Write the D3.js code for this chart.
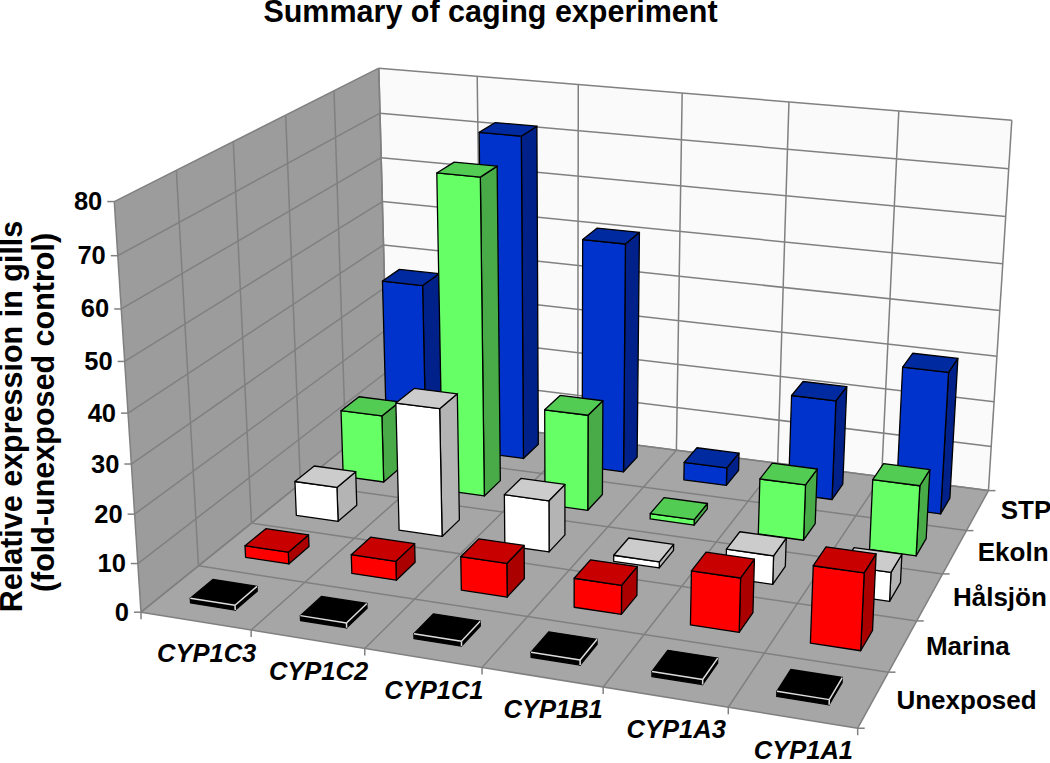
<!DOCTYPE html>
<html><head><meta charset="utf-8">
<script src="https://cdn.jsdelivr.net/npm/d3@7"></script>
<style>html,body{margin:0;padding:0;background:#fff}svg{display:block}text{font-family:"Liberation Sans",Arial,sans-serif;font-weight:bold;fill:#000}</style>
</head><body><div id="c"></div>
<script>
const categories=["CYP1C3","CYP1C2","CYP1C1","CYP1B1","CYP1A3","CYP1A1"];
const seriesNames=["Unexposed","Marina","Hålsjön","Ekoln","STP"];
const unexposed=[1,1,1,1,1,1];
const marina=[2.5,4,7,6,11,15.5];
const halsjon=[7.5,27.5,11,1.3,6,6];
const ekoln=[15,69,21,1.2,12,15];
const stp=[37,72,51,4,22,31];
const seriesValues=[unexposed,marina,halsjon,ekoln,stp];
const valueTicks=[0,10,20,30,40,50,60,70,80];
const titleText="Summary of caging experiment";
const yTitle=["Relative expression in gills","(fold-unexposed control)"];
const palette=[
 {front:"#000000",top:"#000000",side:"#000000",stroke:"#000000",inner:"#dddddd"},
 {front:"#ff0000",top:"#c80000",side:"#aa0000",stroke:"#000000"},
 {front:"#ffffff",top:"#cccccc",side:"#b4b4b4",stroke:"#000000"},
 {front:"#66ff66",top:"#53cc53",side:"#48ab48",stroke:"#000000"},
 {front:"#0033cc",top:"#002aa0",side:"#00208a",stroke:"#000000"}
];
const W=1050,H=763;
const svg=d3.select("#c").append("svg").attr("width",W).attr("height",H);

// Perspective camera fitted to the box corners: [x,z,h] -> [px,py]
const anchors=[[[0,0,0],[140,612]],[[6,0,0],[858,728]],[[6,5,0],[988,491]],[[0,5,0],[389,413]],
               [[0,0,1],[115,202]],[[6,5,1],[1012,120]],[[0,5,1],[378,68]]];
function solve(A,b){const n=b.length,M=A.map((r,i)=>[...r,b[i]]);
 for(let i=0;i<n;i++){let p=i;for(let r=i+1;r<n;r++)if(Math.abs(M[r][i])>Math.abs(M[p][i]))p=r;[M[i],M[p]]=[M[p],M[i]];
  for(let r=0;r<n;r++){if(r===i)continue;const f=M[r][i]/M[i][i];for(let c=i;c<=n;c++)M[r][c]-=f*M[i][c];}}
 return M.map((r,i)=>r[n]/r[i]);}
const rows=[],rhs=[];
anchors.forEach(([[X,Z,Y],[u,v]])=>{
 rows.push([X,Z,Y,1,0,0,0,0,-u*X,-u*Z,-u*Y]);rhs.push(u);
 rows.push([0,0,0,0,X,Z,Y,1,-v*X,-v*Z,-v*Y]);rhs.push(v);});
const ATA=d3.range(11).map(i=>d3.range(11).map(j=>d3.sum(rows,r=>r[i]*r[j])));
const ATb=d3.range(11).map(i=>d3.sum(rows,(r,k)=>r[i]*rhs[k]));
const P=solve(ATA,ATb);
function proj(x,z,h){const w=P[8]*x+P[9]*z+P[10]*h+1;
 return [(P[0]*x+P[1]*z+P[2]*h+P[3])/w,(P[4]*x+P[5]*z+P[6]*h+P[7])/w];}

const xBand=d3.scaleBand().domain(categories).range([0,6]);
const zBand=d3.scaleBand().domain(seriesNames).range([0,5]);
const hScale=d3.scaleLinear().domain([0,80]).range([0,1]);
const poly=d3.line();
const face=(pts)=>poly(pts)+"Z";
const GRID="#808080";
const gWalls=svg.append("g");
gWalls.append("path").attr("d",face([proj(0,0,0),proj(0,5,0),proj(0,5,1),proj(0,0,1)])).attr("fill","#9c9c9c");
gWalls.append("path").attr("d",face([proj(0,5,0),proj(6,5,0),proj(6,5,1),proj(0,5,1)])).attr("fill","#fafafa");
gWalls.append("path").attr("d",face([proj(0,0,0),proj(6,0,0),proj(6,5,0),proj(0,5,0)])).attr("fill","#a6a6a6");
function gl(a,b){gWalls.append("line").attr("x1",a[0]).attr("y1",a[1]).attr("x2",b[0]).attr("y2",b[1]).attr("stroke",GRID).attr("stroke-width",1.5);}
valueTicks.forEach(v=>{const h=hScale(v);
 gl(proj(0,0,h),proj(0,5,h));gl(proj(0,5,h),proj(6,5,h));
 const p=proj(0,0,h);gl([p[0]-7,p[1]],p);
 svg.append("text").attr("x",p[0]-12).attr("y",p[1]+8.5).attr("text-anchor","end").attr("font-size",25.5).text(v);});
d3.range(0,7).forEach(i=>{gl(proj(i,0,0),proj(i,5,0));gl(proj(i,5,0),proj(i,5,1));
 const p=proj(i,0,0);gl(p,[p[0],p[1]+7]);});
d3.range(0,6).forEach(i=>{gl(proj(0,i,0),proj(0,i,1));gl(proj(0,i,0),proj(6,i,0));
 const p=proj(6,i,0);gl(p,[p[0]+7,p[1]]);});

const bw=0.41,bd=0.40;
const gBars=svg.append("g");
seriesNames.map((s,i)=>i).reverse().forEach(si=>{
 const c=palette[si],name=seriesNames[si];
 categories.forEach((cat,ci)=>{
  const v=seriesValues[si][ci],h=hScale(v);
  const xm=xBand(cat)+xBand.bandwidth()/2,zm=zBand(name)+zBand.bandwidth()/2;
  const x0=xm-bw/2,x1=xm+bw/2,z0=zm-bd/2,z1=zm+bd/2;
  const g=gBars.append("g");
  const st=(sel,f)=>sel.attr("fill",f).attr("stroke",c.stroke).attr("stroke-width",1.3).attr("stroke-linejoin","round");
  st(g.append("path").attr("d",face([proj(x1,z0,0),proj(x1,z1,0),proj(x1,z1,h),proj(x1,z0,h)])),c.side);
  st(g.append("path").attr("d",face([proj(x0,z0,0),proj(x1,z0,0),proj(x1,z0,h),proj(x0,z0,h)])),c.front);
  st(g.append("path").attr("d",face([proj(x0,z0,h),proj(x1,z0,h),proj(x1,z1,h),proj(x0,z1,h)])),c.top);
  if(c.inner){const a=proj(x1,z0,h);
   [proj(x0,z0,h),proj(x1,z1,h),proj(x1,z0,0)].forEach(b=>g.append("line").attr("x1",a[0]).attr("y1",a[1]).attr("x2",b[0]).attr("y2",b[1]).attr("stroke",c.inner).attr("stroke-width",1.5));}
 });
});

svg.append("text").attr("x",490.5).attr("y",21.5).attr("text-anchor","middle").attr("font-size",30.5).text(titleText);
categories.forEach(cat=>{const p=proj(xBand(cat)+xBand.bandwidth()/2,0,0);
 svg.append("text").attr("x",p[0]+11).attr("y",p[1]+41).attr("text-anchor","middle").attr("font-size",25.5).attr("font-style","italic").text(cat);});
seriesNames.forEach(s=>{const p=proj(6,zBand(s)+zBand.bandwidth()/2,0);
 svg.append("text").attr("x",p[0]+23).attr("y",p[1]+9).attr("font-size",26).text(s);});
[[22,416.5],[54,412.5]].forEach(([x,y],i)=>{
 svg.append("text").attr("transform",`translate(${x},${y}) rotate(-90)`).attr("text-anchor","middle").attr("font-size",30.5).text(yTitle[i]);});
</script></body></html>
